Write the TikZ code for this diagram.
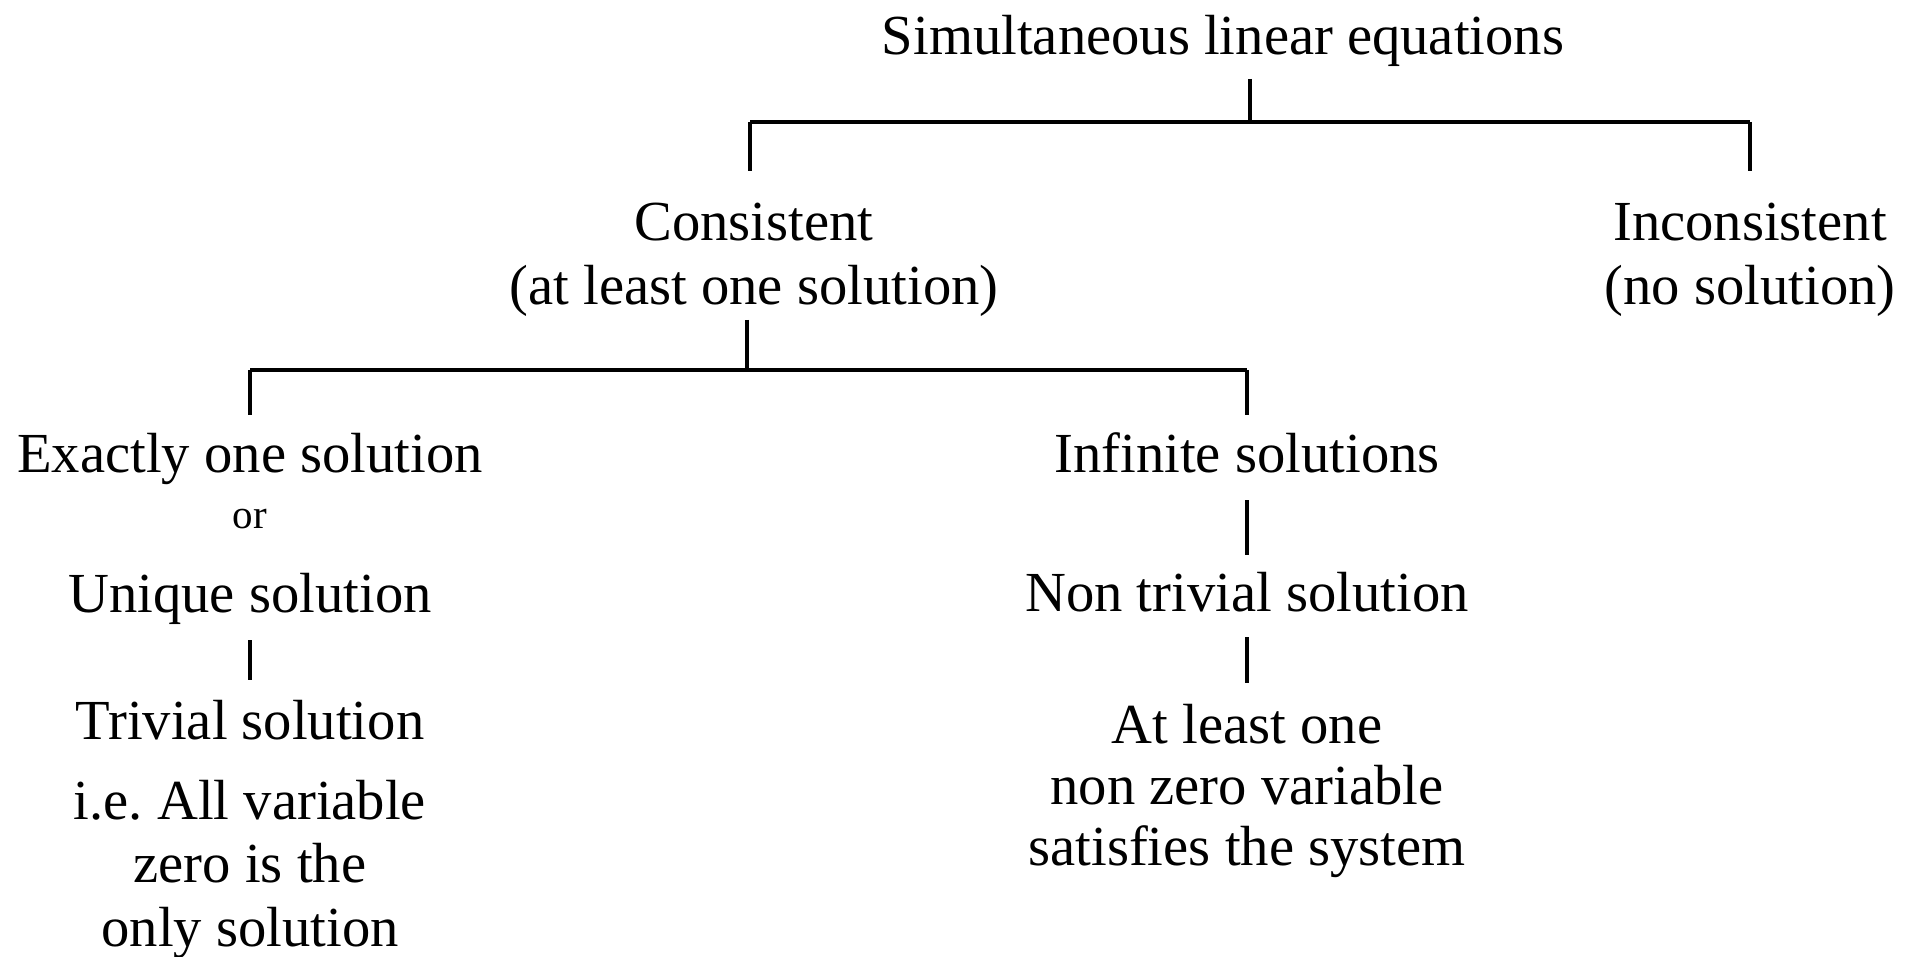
\documentclass[tikz,border=0pt]{standalone}
\usepackage{fontspec}
\setmainfont{Liberation Serif}
\frenchspacing
\begin{document}
\begin{tikzpicture}[x=1pt,y=-1pt,
  lbl/.style={font=\fontsize{56.6}{64}\selectfont, align=center, anchor=base, inner sep=0pt},
  smalllbl/.style={font=\fontsize{41}{46}\selectfont, anchor=base, inner sep=0pt},
  hbar/.style={line width=4.4pt},
  vbar/.style={line width=3.6pt}]
\useasboundingbox (0,0) rectangle (1912,957);
% nodes (multi-line nodes are placed by the baseline of their last line)
\node[lbl] (title) at (1223,55) {Simultaneous linear equations};
\node[lbl] (cons) at (754,305) {Consistent\\(at least one solution)};
\node[lbl] (incons) at (1750,305) {Inconsistent\\(no solution)};
\node[lbl] (exact) at (250,472) {Exactly one solution};
\node[smalllbl] (or) at (250,528) {or};
\node[lbl] (unique) at (250,612) {Unique solution};
\node[lbl] (trivial) at (250,739) {Trivial solution};
\node[lbl, font=\fontsize{56.6}{63.5}\selectfont] (ie) at (250,946) {i.e.\ All variable\\zero is the\\only solution};
\node[lbl] (inf) at (1247,472) {Infinite solutions};
\node[lbl] (nontriv) at (1247,611) {Non trivial solution};
\node[lbl, font=\fontsize{56.6}{61}\selectfont] (atleast) at (1247,865) {At least one\\non zero variable\\satisfies the system};
% junction coordinates
\coordinate (t0) at (1250,79);
\coordinate (t1) at (1250,122);
\coordinate (a1) at (750,122);
\coordinate (a2) at (750,171);
\coordinate (b1) at (1750,122);
\coordinate (b2) at (1750,171);
\coordinate (c0) at (747,320);
\coordinate (c1) at (747,370);
\coordinate (d1) at (250,370);
\coordinate (d2) at (250,415);
\coordinate (e1) at (1247,370);
\coordinate (e2) at (1247,415);
\coordinate (f1) at (250,640);
\coordinate (f2) at (250,680);
\coordinate (g1) at (1247,500);
\coordinate (g2) at (1247,555);
\coordinate (h1) at (1247,637);
\coordinate (h2) at (1247,683);
% connectors
\draw[vbar] (t0) -- (t1);
\draw[hbar] (a1) -- (b1);
\draw[vbar] (a1) -- (a2);
\draw[vbar] (b1) -- (b2);
\draw[vbar] (c0) -- (c1);
\draw[hbar] (d1) -- (e1);
\draw[vbar] (d1) -- (d2);
\draw[vbar] (e1) -- (e2);
\draw[vbar] (f1) -- (f2);
\draw[vbar] (g1) -- (g2);
\draw[vbar] (h1) -- (h2);
\end{tikzpicture}
\end{document}
